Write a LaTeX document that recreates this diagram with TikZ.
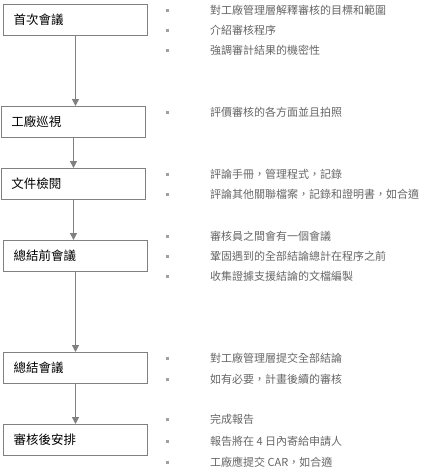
\documentclass[tikz,border=0pt]{standalone}
\usepackage{fontspec}
\newfontfamily\cjk{Noto Sans CJK TC}
\usetikzlibrary{arrows.meta,positioning}
\definecolor{AUDline}{HTML}{808080}
\definecolor{AUDtext}{HTML}{666666}
\definecolor{AUDdot}{HTML}{A0A0A0}
\tikzset{audbox/.style={draw=AUDline,line width=1pt,anchor=north west,
 minimum height=31pt,text width=124pt,inner xsep=10pt,align=left,
 font=\cjk\fontsize{12.5}{14}\selectfont,text=black},
 audarr/.style={-{Triangle[length=7pt,width=7pt]},line width=1.2pt,draw=AUDline},
 auddot/.style={fill=AUDdot,minimum size=3pt,inner sep=0pt},
 auditem/.style={anchor=west,inner sep=0pt,text=AUDtext,
 font=\cjk\fontsize{11}{13}\selectfont}}

\begin{document}
\begin{tikzpicture}[x=1pt,y=-1pt]
\useasboundingbox (0,0) rectangle (426,469);
% stages
\node[audbox] (open) at (3,4) {首次會議};
\node[audbox] (tour) at (1,106) {工廠巡視};
\node[audbox] (docs) at (1,168) {文件檢閱};
\node[audbox] (pre) at (3,240) {總結前會議};
\node[audbox] (close) at (3,352) {總結會議};
\node[audbox] (after) at (3,424) {審核後安排};
\draw[audarr] (open.south)--(open.south |- tour.north);
\draw[audarr] (tour.south)--(tour.south |- docs.north);
\draw[audarr] (docs.south)--(docs.south |- pre.north);
\draw[audarr] (pre.south)--(pre.south |- close.north);
\draw[audarr] (close.south)--(close.south |- after.north);
% bullet items
\node[auddot] (d1) at (167,10) {}; \node[auditem] (t1) at (210,10) {對工廠管理層解釋審核的目標和範圍};
\node[auddot] (d2) at (167,30) {}; \node[auditem] (t2) at (210,30) {介紹審核程序};
\node[auddot] (d3) at (167,50) {}; \node[auditem] (t3) at (210,50) {強調審計結果的機密性};
\node[auddot] (d4) at (167,112) {}; \node[auditem] (t4) at (210,112) {評價審核的各方面並且拍照};
\node[auddot] (d5) at (167,174) {}; \node[auditem] (t5) at (210,174) {評論手冊，管理程式，記錄};
\node[auddot] (d6) at (167,194) {}; \node[auditem] (t6) at (210,194) {評論其他關聯檔案，記錄和證明書，如合適};
\node[auddot] (d7) at (167,236) {}; \node[auditem] (t7) at (210,236) {審核員之間會有一個會議};
\node[auddot] (d8) at (167,256) {}; \node[auditem] (t8) at (210,256) {鞏固遇到的全部結論總計在程序之前};
\node[auddot] (d9) at (167,276) {}; \node[auditem] (t9) at (210,276) {收集證據支援結論的文檔編製};
\node[auddot] (d10) at (167,358) {}; \node[auditem] (t10) at (210,358) {對工廠管理層提交全部結論};
\node[auddot] (d11) at (167,379) {}; \node[auditem] (t11) at (210,379) {如有必要，計畫後續的審核};
\node[auddot] (d12) at (167,419) {}; \node[auditem] (t12) at (210,419) {完成報告};
\node[auddot] (d13) at (167,441) {}; \node[auditem] (t13) at (210,441) {報告將在 4 日內寄給申請人};
\node[auddot] (d14) at (167,462) {}; \node[auditem] (t14) at (210,462) {工廠應提交 CAR，如合適};
\end{tikzpicture}
\end{document}
